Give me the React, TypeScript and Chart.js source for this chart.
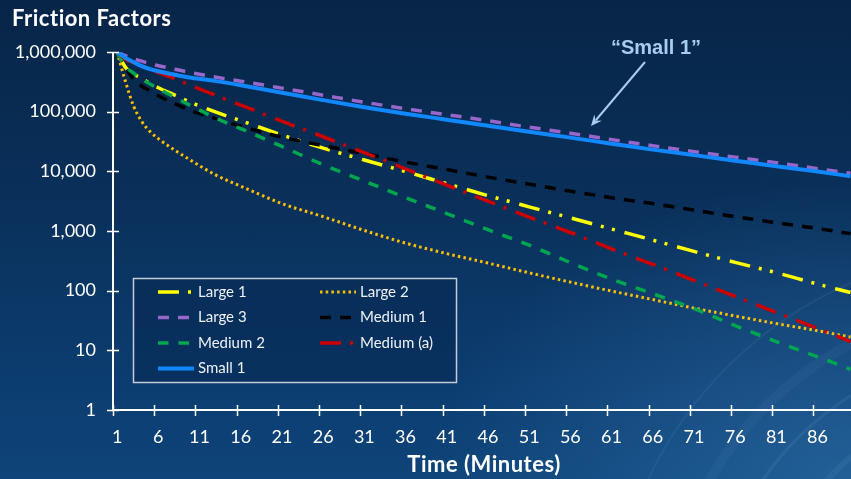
import { useEffect, useRef } from "react";
import { Chart, registerables } from "chart.js";

Chart.register(...registerables);

// ---- data ----
const minutes = [1, 2, 3, 4, 5, 6, 8, 10, 13, 16, 21, 26, 31, 36, 41, 46, 51, 56, 61, 66, 71, 76, 81, 86, 90];

const large1 = [1000000, 557000, 425000, 364000, 294000, 252000, 189000, 142000, 98100, 70600, 40700, 24500, 15500, 9900, 6220, 3920, 2540, 1660, 1080, 704, 455, 298, 200, 129, 93];
const large2 = [1000000, 324000, 124000, 68000, 46300, 35300, 22600, 15100, 8640, 5650, 2880, 1740, 1020, 627, 418, 290, 199, 139, 98.5, 71, 51, 37.6, 28.1, 21.3, 16.7];
const large3 = [1000000, 867000, 773000, 702000, 637000, 590000, 515000, 450000, 378000, 324000, 248000, 189000, 144000, 112000, 89100, 70600, 55000, 43600, 34000, 26900, 21400, 17300, 14000, 11100, 9300];
const medium1 = [1000000, 568000, 350000, 267000, 225000, 185000, 136000, 104000, 76400, 57200, 37400, 26900, 19800, 14300, 10700, 8000, 6100, 4660, 3620, 2880, 2240, 1740, 1380, 1100, 904];
const medium2 = [1000000, 578000, 442000, 350000, 292000, 243000, 174000, 125000, 77800, 51900, 26100, 12900, 6860, 3630, 1960, 1050, 580, 296, 156, 89, 50, 26, 14, 7.8, 4.8];
const mediumA = [1000000, 757000, 662000, 578000, 506000, 450000, 356000, 272000, 186000, 129000, 69300, 38000, 20500, 11000, 5870, 3170, 1710, 944, 504, 276, 149, 80, 43, 23.3, 14];
const small1 = [1000000, 803000, 675000, 578000, 515000, 477000, 417000, 371000, 325000, 278000, 208000, 156000, 119000, 92500, 73400, 58200, 46200, 36700, 29100, 23100, 18700, 15100, 12200, 9900, 8300];

const xTickLabels = [1, 6, 11, 16, 21, 26, 31, 36, 41, 46, 51, 56, 61, 66, 71, 76, 81, 86];
const yTickValues = [1, 10, 100, 1000, 10000, 100000, 1000000];

const seriesNames = ["Large 1", "Large 2", "Large 3", "Medium 1", "Medium 2", "Medium (a)", "Small 1"];
const seriesValues = [large1, large2, large3, medium1, medium2, mediumA, small1];
const seriesColors = ["#ffff00", "#ffc000", "#9966cc", "#000000", "#00a650", "#cc0000", "#1188ff"];
const seriesDashes: number[][] = [
  [21, 9, 3, 8.5, 3, 10],
  [2.5, 3.2],
  [11, 9],
  [11, 9],
  [10.5, 10],
  [21, 9, 3, 10],
  [],
];
const seriesWidths = [3.5, 3, 3.5, 3.5, 3.5, 3.5, 4];

const FONT = "Lato, 'Open Sans', sans-serif";

const decorPlugin = {
  id: "decor",
  beforeDraw(chart: any) {
    const ctx = chart.ctx as CanvasRenderingContext2D;
    ctx.save();
    const arcs = [
      [1010, 650, 250, 6, 0.07],
      [1010, 650, 300, 3, 0.09],
      [1010, 650, 345, 10, 0.05],
      [1010, 650, 400, 2, 0.08],
    ];
    for (const [cx, cy, r, w, a] of arcs) {
      ctx.beginPath();
      ctx.strokeStyle = `rgba(150,200,240,${a})`;
      ctx.lineWidth = w;
      ctx.arc(cx, cy, r, Math.PI * 1.0, Math.PI * 1.5);
      ctx.stroke();
    }
    ctx.restore();
  },
  afterDraw(chart: any) {
    const ctx = chart.ctx as CanvasRenderingContext2D;
    const area = chart.chartArea;
    const xs = chart.scales.x;
    const ys = chart.scales.y;
    ctx.save();

    // axes
    ctx.strokeStyle = "#ffffff";
    ctx.lineWidth = 2;
    ctx.beginPath();
    ctx.moveTo(area.left, area.top);
    ctx.lineTo(area.left, area.bottom);
    ctx.lineTo(area.right, area.bottom);
    ctx.stroke();

    // cross tick marks
    ctx.lineWidth = 1.5;
    ctx.beginPath();
    for (const v of yTickValues) {
      const y = Math.round(ys.getPixelForValue(v)) + 0.5;
      ctx.moveTo(area.left - 6, y);
      ctx.lineTo(area.left + 6, y);
    }
    for (let k = 0; k < 19; k++) {
      const x = Math.round(xs.getPixelForValue(0.5 + 5 * k)) + 0.5;
      if (x > area.right) break;
      ctx.moveTo(x, area.bottom - 5);
      ctx.lineTo(x, area.bottom + 6);
    }
    ctx.stroke();

    // titles
    ctx.fillStyle = "#ffffff";
    ctx.textBaseline = "middle";
    ctx.textAlign = "left";
    ctx.font = `bold 22px ${FONT}`;
    (ctx as any).letterSpacing = "0.5px";
    ctx.fillText("Friction Factors", 12, 19);
    ctx.textAlign = "center";
    ctx.fillText("Time (Minutes)", (area.left + area.right) / 2 + 2, 465);
    (ctx as any).letterSpacing = "0px";

    // annotation
    const annColor = "#a9cdee";
    ctx.fillStyle = annColor;
    ctx.font = "bold 20px 'Liberation Sans', Arial, sans-serif";
    ctx.fillText("\u201CSmall 1\u201D", 656, 48);
    const x0 = 645, y0 = 62, x1 = 591, y1 = 126;
    ctx.strokeStyle = annColor;
    ctx.lineWidth = 2;
    ctx.beginPath();
    ctx.moveTo(x0, y0);
    ctx.lineTo(x1 + 5, y1 - 6);
    ctx.stroke();
    const ang = Math.atan2(y1 - y0, x1 - x0);
    const L = 12, W = 0.42;
    ctx.beginPath();
    ctx.moveTo(x1, y1);
    ctx.lineTo(x1 - L * Math.cos(ang - W), y1 - L * Math.sin(ang - W));
    ctx.lineTo(x1 - L * 0.6 * Math.cos(ang), y1 - L * 0.6 * Math.sin(ang));
    ctx.lineTo(x1 - L * Math.cos(ang + W), y1 - L * Math.sin(ang + W));
    ctx.closePath();
    ctx.fill();

    // legend
    const bx = 133.5, by = 278.5, bw = 323, bh = 104;
    ctx.fillStyle = "rgba(8,40,82,0.55)";
    ctx.fillRect(bx, by, bw, bh);
    ctx.strokeStyle = "#c4ccd8";
    ctx.lineWidth = 1.5;
    ctx.strokeRect(bx, by, bw, bh);
    ctx.font = `15px ${FONT}`;
    ctx.textAlign = "left";
    ctx.textBaseline = "middle";
    chart.data.datasets.forEach((ds: any, i: number) => {
      const col = i % 2;
      const row = Math.floor(i / 2);
      const sx = col === 0 ? 158 : 320;
      const tx = col === 0 ? 198 : 360;
      const y = 292 + row * 25.5;
      ctx.save();
      ctx.strokeStyle = ds.borderColor;
      ctx.lineWidth = ds.borderWidth;
      ctx.setLineDash(ds.borderDash || []);
      ctx.lineCap = "butt";
      ctx.beginPath();
      ctx.moveTo(sx, y);
      ctx.lineTo(sx + 36, y);
      ctx.stroke();
      ctx.restore();
      ctx.fillStyle = "#eef2f7";
      ctx.fillText(ds.label, tx, y);
    });

    ctx.restore();
  },
};

export default function App() {
  const ref = useRef<HTMLCanvasElement | null>(null);

  useEffect(() => {
    if (!ref.current) return;
    const datasets = seriesNames.map((name, i) => ({
      label: name,
      data: minutes.map((m, j) => ({ x: m, y: seriesValues[i][j] })),
      borderColor: seriesColors[i],
      backgroundColor: seriesColors[i],
      borderWidth: seriesWidths[i],
      borderDash: seriesDashes[i],
      pointRadius: 0,
      fill: false,
      cubicInterpolationMode: "monotone" as const,
      order: seriesNames.length - i,
    }));

    const chart = new Chart(ref.current, {
      type: "line",
      data: { datasets },
      plugins: [decorPlugin],
      options: {
        animation: false,
        responsive: false,
        devicePixelRatio: 1,
        layout: { padding: { top: 52, left: 0, right: 0, bottom: 0 } },
        plugins: {
          legend: { display: false },
          tooltip: { enabled: false },
          title: { display: false },
        },
        scales: {
          x: {
            type: "linear",
            min: 0.5,
            max: 90.06,
            afterBuildTicks: (s: any) => {
              s.ticks = xTickLabels.map((v) => ({ value: v }));
            },
            afterFit: (s: any) => {
              s.height = 69;
            },
            grid: { display: false, drawTicks: false },
            border: { display: false },
            ticks: {
              color: "#ffffff",
              font: { family: FONT, size: 18 },
              padding: 16,
              autoSkip: false,
              maxRotation: 0,
              callback: (v: any) => String(v),
            },
          },
          y: {
            type: "logarithmic",
            min: 1,
            max: 1000000,
            afterBuildTicks: (s: any) => {
              s.ticks = yTickValues.map((v) => ({ value: v }));
            },
            afterFit: (s: any) => {
              s.width = 113;
            },
            grid: { display: false, drawTicks: false },
            border: { display: false },
            ticks: {
              color: "#ffffff",
              font: { family: FONT, size: 18 },
              padding: 17,
              autoSkip: false,
              callback: (v: any) => Number(v).toLocaleString("en-US"),
            },
          },
        },
      },
    });
    return () => chart.destroy();
  }, []);

  return (
    <div
      style={{
        position: "absolute",
        left: 0,
        top: 0,
        width: 851,
        height: 479,
        overflow: "hidden",
        background:
          "radial-gradient(ellipse 420px 300px at 100% 100%, rgba(60,130,190,0.45) 0%, rgba(30,90,150,0) 100%), linear-gradient(180deg, #072547 0%, #0a315c 45%, #0c3d70 80%, #0e4479 100%)",
      }}
    >
      <canvas ref={ref} width={851} height={479} style={{ display: "block" }} />
    </div>
  );
}
